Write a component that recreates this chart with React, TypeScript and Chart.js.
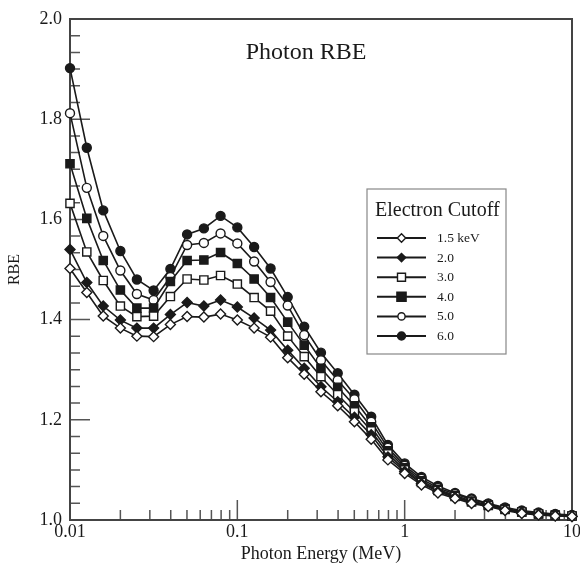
import React, { useEffect, useRef } from 'react';
import { Chart, registerables } from 'chart.js';

Chart.register(...registerables);

// ---------- data ----------
const energies = [
  0.01, 0.0126, 0.0158, 0.02, 0.0251, 0.0316, 0.0398, 0.0501, 0.0631, 0.0794,
  0.1, 0.126, 0.158, 0.2, 0.251, 0.316, 0.398, 0.501, 0.631, 0.794,
  1, 1.26, 1.58, 2, 2.51, 3.16, 3.98, 5.01, 6.31, 7.94, 10,
];

const rbe15 = [1.502, 1.454, 1.407, 1.383, 1.367, 1.366, 1.39, 1.406, 1.405, 1.411, 1.399, 1.383, 1.365, 1.324, 1.291, 1.256, 1.228, 1.196, 1.161, 1.12, 1.093, 1.07, 1.054, 1.043, 1.033, 1.027, 1.019, 1.013, 1.01, 1.008, 1.007];
const rbe20 = [1.54, 1.474, 1.427, 1.399, 1.383, 1.383, 1.41, 1.434, 1.427, 1.439, 1.425, 1.403, 1.379, 1.339, 1.303, 1.266, 1.236, 1.205, 1.17, 1.126, 1.097, 1.073, 1.057, 1.045, 1.035, 1.028, 1.02, 1.015, 1.011, 1.009, 1.007];
const rbe30 = [1.632, 1.535, 1.478, 1.427, 1.406, 1.407, 1.446, 1.481, 1.479, 1.488, 1.471, 1.444, 1.417, 1.367, 1.326, 1.286, 1.25, 1.216, 1.178, 1.132, 1.1, 1.075, 1.059, 1.047, 1.036, 1.029, 1.021, 1.016, 1.012, 1.009, 1.008];
const rbe40 = [1.711, 1.602, 1.518, 1.459, 1.423, 1.423, 1.476, 1.518, 1.519, 1.534, 1.512, 1.481, 1.444, 1.395, 1.349, 1.303, 1.265, 1.228, 1.186, 1.138, 1.104, 1.078, 1.061, 1.049, 1.038, 1.03, 1.022, 1.016, 1.012, 1.01, 1.008];
const rbe50 = [1.812, 1.663, 1.567, 1.498, 1.451, 1.439, 1.485, 1.549, 1.553, 1.572, 1.552, 1.516, 1.475, 1.428, 1.369, 1.319, 1.279, 1.241, 1.196, 1.144, 1.108, 1.082, 1.064, 1.052, 1.041, 1.032, 1.023, 1.017, 1.013, 1.011, 1.009];
const rbe60 = [1.902, 1.743, 1.618, 1.537, 1.48, 1.458, 1.501, 1.57, 1.582, 1.607, 1.584, 1.545, 1.502, 1.445, 1.386, 1.334, 1.293, 1.25, 1.206, 1.15, 1.113, 1.086, 1.068, 1.054, 1.043, 1.033, 1.025, 1.019, 1.015, 1.012, 1.01];

const seriesLabels = ['1.5 keV', '2.0', '3.0', '4.0', '5.0', '6.0'];
const xTickValues = [0.01, 0.1, 1, 10];
const xTickLabels = ['0.01', '0.1', '1', '10'];
const chartTitle = 'Photon RBE';
const legendTitle = 'Electron Cutoff';
const xAxisTitle = 'Photon Energy (MeV)';
const yAxisTitle = 'RBE';

const SERIF = "'Liberation Serif', 'DejaVu Serif', 'Times New Roman', serif";
const INK = '#1a1a1a';

// marker styling (style only)
const markerShape = ['rectRot', 'rectRot', 'rect', 'rect', 'circle', 'circle'];
const markerFilled = [false, true, false, true, false, true];
const markerRadius = [5, 5, 5.8, 5.8, 4.5, 4.5];
const legendMarkerSize = [4.2, 4.2, 4, 4.6, 3.6, 4];

function drawMarker(ctx: CanvasRenderingContext2D, shape: string, filled: boolean, x: number, y: number, r: number) {
  ctx.beginPath();
  if (shape === 'circle') {
    ctx.arc(x, y, r, 0, Math.PI * 2);
  } else if (shape === 'rect') {
    ctx.rect(x - r, y - r, 2 * r, 2 * r);
  } else {
    ctx.moveTo(x - r, y);
    ctx.lineTo(x, y - r);
    ctx.lineTo(x + r, y);
    ctx.lineTo(x, y + r);
    ctx.closePath();
  }
  ctx.fillStyle = filled ? INK : '#fff';
  ctx.fill();
  ctx.lineWidth = 1.4;
  ctx.strokeStyle = INK;
  ctx.stroke();
}

const decorPlugin = {
  id: 'decor',
  beforeDatasetsDraw(chart: any) {
    const { ctx, chartArea: a, scales } = chart;
    const xs = scales.x;
    const ys = scales.y;
    ctx.save();
    ctx.strokeStyle = '#555';
    ctx.lineWidth = 1.5;
    ctx.beginPath();
    // x ticks (inward)
    for (const d of [0.01, 0.1, 1]) {
      for (let k = 1; k <= 9; k++) {
        if (k === 1 && d === 0.01) continue;
        const px = xs.getPixelForValue(k * d);
        const len = k === 1 ? 20 : 10;
        ctx.moveTo(px, a.bottom);
        ctx.lineTo(px, a.bottom - len);
      }
    }
    // y ticks (inward)
    for (let j = 1; j < 30; j++) {
      const py = ys.getPixelForValue(1 + j / 30);
      const len = j % 6 === 0 ? 20 : 10;
      ctx.moveTo(a.left, py);
      ctx.lineTo(a.left + len, py);
    }
    ctx.stroke();
    // frame
    ctx.strokeStyle = '#444';
    ctx.lineWidth = 2;
    ctx.strokeRect(a.left, a.top, a.right - a.left, a.bottom - a.top);
    // title inside plot
    ctx.fillStyle = INK;
    ctx.font = `24px ${SERIF}`;
    ctx.textAlign = 'center';
    ctx.textBaseline = 'alphabetic';
    ctx.fillText(chartTitle, 306, 59);
    ctx.restore();
  },
  afterDatasetsDraw(chart: any) {
    const { ctx } = chart;
    ctx.save();
    const bx = 367, by = 189, bw = 139, bh = 165;
    ctx.fillStyle = '#fff';
    ctx.fillRect(bx, by, bw, bh);
    ctx.strokeStyle = '#888';
    ctx.lineWidth = 1.2;
    ctx.strokeRect(bx, by, bw, bh);
    ctx.fillStyle = INK;
    ctx.font = `20px ${SERIF}`;
    ctx.textAlign = 'left';
    ctx.textBaseline = 'alphabetic';
    ctx.fillText(legendTitle, 375, 216);
    ctx.font = `13.5px ${SERIF}`;
    ctx.textBaseline = 'middle';
    seriesLabels.forEach((lab, i) => {
      const y = 238 + i * 19.6;
      ctx.strokeStyle = INK;
      ctx.lineWidth = 2;
      ctx.beginPath();
      ctx.moveTo(377, y);
      ctx.lineTo(426, y);
      ctx.stroke();
      drawMarker(ctx, markerShape[i], markerFilled[i], 401.5, y, legendMarkerSize[i]);
      ctx.fillStyle = INK;
      ctx.fillText(lab, 437, y + 0.5);
    });
    ctx.restore();
  },
};

export default function App() {
  const ref = useRef<HTMLCanvasElement>(null);
  useEffect(() => {
    const canvas = ref.current;
    if (!canvas) return;
    const all = [rbe15, rbe20, rbe30, rbe40, rbe50, rbe60];
    const datasets = all.map((ys, i) => ({
      label: seriesLabels[i],
      data: energies.map((x, j) => ({ x, y: ys[j] })),
      borderColor: INK,
      borderWidth: 1.6,
      pointStyle: markerShape[i],
      pointRadius: markerRadius[i],
      pointBackgroundColor: markerFilled[i] ? INK : '#fff',
      pointBorderColor: INK,
      pointBorderWidth: 1.4,
      tension: 0,
      clip: false as any,
    }));
    const chart = new Chart(canvas, {
      type: 'line',
      data: { datasets },
      options: {
        animation: false,
        responsive: false,
        devicePixelRatio: 1,
        layout: { padding: { left: 0, right: 8, top: 19, bottom: 0 } },
        plugins: {
          legend: { display: false },
          title: { display: false },
          tooltip: { enabled: false },
        },
        scales: {
          x: {
            type: 'logarithmic',
            min: 0.01,
            max: 10,
            grid: { display: false, drawTicks: false },
            border: { display: false },
            afterBuildTicks: (s: any) => {
              s.ticks = xTickValues.map((v) => ({ value: v }));
            },
            afterFit: (s: any) => {
              s.height = 45;
              s.paddingLeft = 0;
              s.paddingRight = 0;
            },
            ticks: {
              autoSkip: false,
              maxRotation: 0,
              padding: 1,
              color: INK,
              font: { family: SERIF, size: 18 },
              callback: (v: any) => {
                const idx = xTickValues.findIndex((t) => Math.abs(t - v) < 1e-9);
                return idx >= 0 ? xTickLabels[idx] : '';
              },
            },
            title: {
              display: true,
              text: xAxisTitle,
              color: INK,
              font: { family: SERIF, size: 18 },
              padding: { top: 0, bottom: 0 },
            },
          },
          y: {
            type: 'linear',
            min: 1,
            max: 2,
            grid: { display: false, drawTicks: false },
            border: { display: false },
            afterFit: (s: any) => {
              s.width = 70;
              s.paddingTop = 0;
              s.paddingBottom = 0;
            },
            ticks: {
              stepSize: 0.2,
              padding: 8,
              color: INK,
              font: { family: SERIF, size: 18 },
              callback: (v: any) => Number(v).toFixed(1),
            },
            title: {
              display: true,
              text: yAxisTitle,
              color: INK,
              font: { family: SERIF, size: 16 },
              padding: { top: 5, bottom: 0 },
            },
          },
        },
      },
      plugins: [decorPlugin],
    } as any);
    return () => chart.destroy();
  }, []);
  return (
    <div style={{ position: 'fixed', left: 0, top: 0, width: 580, height: 565, background: '#fff' }}>
      <canvas ref={ref} width={580} height={565} style={{ display: 'block' }} />
    </div>
  );
}
